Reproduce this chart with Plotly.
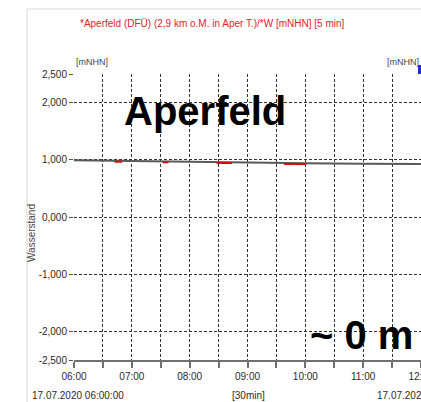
import plotly.graph_objects as go

# ---- data ----
grey_times = ["2020-07-17 06:00", "2020-07-17 07:00", "2020-07-17 08:00", "2020-07-17 09:00",
              "2020-07-17 10:00", "2020-07-17 11:00", "2020-07-17 12:00"]
grey_values = [990, 975, 960, 950, 940, 932, 928]

red_segments = [
    (["2020-07-17 06:42", "2020-07-17 06:50"], [966, 966]),
    (["2020-07-17 07:32", "2020-07-17 07:38"], [956, 956]),
    (["2020-07-17 08:28", "2020-07-17 08:44"], [944, 944]),
    (["2020-07-17 09:38", "2020-07-17 10:01"], [925, 925]),
]

y_tickvals = [2500, 2000, 1000, 0, -1000, -2000, -2500]
y_ticktext = ["2,500", "2,000", "1,000", "0,000", "-1,000", "-2,000", "-2,500"]

title_text = "*Aperfeld (DFÜ) (2,9 km o.M. in Aper T.)/*W [mNHN] [5 min]"

# ---- geometry helpers (pixels -> paper) ----
W, H = 421, 402
L, R, T, B = 74, 421, 74, 360
def px(x):
    return (x - L) / (R - L)
def py(y):
    return (B - y) / (B - T)

FONT = "Arial, Liberation Sans, sans-serif"

fig = go.Figure()
fig.add_trace(go.Scatter(x=grey_times, y=grey_values, mode="lines",
                         line=dict(color="#5a5a5a", width=2), showlegend=False))
for xs, ys in red_segments:
    fig.add_trace(go.Scatter(x=xs, y=ys, mode="lines",
                             line=dict(color="#d01010", width=2), showlegend=False))

grid_color = "#333333"
fig.update_layout(
    width=W, height=H,
    margin=dict(l=L, r=W - R, t=T, b=H - B, autoexpand=False),
    paper_bgcolor="white", plot_bgcolor="white",
    font=dict(family=FONT, size=10, color="#2a2a2a"),
    showlegend=False,
    xaxis=dict(
        type="date",
        range=["2020-07-17 06:00", "2020-07-17 12:00"],
        dtick=3600000, tickformat="%H:%M",
        showgrid=True, gridcolor=grid_color, gridwidth=1, griddash="3px,2px",
        showline=True, linecolor="#707070", linewidth=1.5,
        ticks="outside", ticklen=6, tickcolor="#707070", tickwidth=1.5,
        tickfont=dict(size=10, color="#2a2a2a"),
        ticklabeloverflow="allow", automargin=False,
        zeroline=False,
        minor=dict(dtick=1800000, showgrid=True, gridcolor=grid_color, gridwidth=1,
                   griddash="3px,2px", ticks="outside", ticklen=6,
                   tickcolor="#707070", tickwidth=1.5),
    ),
    yaxis=dict(
        range=[-2500, 2500],
        tickvals=y_tickvals, ticktext=y_ticktext,
        showgrid=True, gridcolor=grid_color, gridwidth=1, griddash="3px,2px",
        showline=False, zeroline=False, automargin=False,
        ticks="outside", ticklen=4, tickcolor="#555555", tickwidth=1,
        tickfont=dict(size=10, color="#2a2a2a"),
    ),
)

# light grey frame
fig.add_shape(type="line", xref="paper", yref="paper",
              x0=px(27), x1=px(421), y0=py(9), y1=py(9),
              line=dict(color="#d8d8d8", width=1))
fig.add_shape(type="line", xref="paper", yref="paper",
              x0=px(27), x1=px(27), y0=py(9), y1=py(402),
              line=dict(color="#d8d8d8", width=1))
# blue marker at top right
fig.add_shape(type="rect", xref="paper", yref="paper",
              x0=px(418), x1=px(422), y0=py(74), y1=py(65),
              line=dict(width=0), fillcolor="#1a2ee0")

ann = []
def add(text, x, y, xa="left", ya="middle", size=10, color="#2a2a2a", angle=0, bold=False):
    ann.append(dict(text=f"<b>{text}</b>" if bold else text, xref="paper", yref="paper",
                    x=px(x), y=py(y), xanchor=xa, yanchor=ya, showarrow=False,
                    textangle=angle, font=dict(family=FONT, size=size, color=color)))

add(title_text, 212, 23, xa="center", color="#e5202a")
add("[mNHN]", 74, 62, xa="left", size=9, color="#444444")
add("[mNHN]", 421, 62, xa="right", size=9, color="#444444")
add("Wasserstand", 31, 233, xa="center", size=10, color="#444444", angle=-90)
add("17.07.2020 06:00:00", 30, 395, xa="left")
add("[30min]", 248, 395, xa="center")
add("17.07.2020 12:00:00", 375, 395, xa="left")
add("Aperfeld", 122, 111, xa="left", size=40, color="#000000", bold=True)
add("~ 0 m", 308, 335, xa="left", size=40, color="#000000", bold=True)
fig.update_layout(annotations=ann)

fig.write_html("out.html")
